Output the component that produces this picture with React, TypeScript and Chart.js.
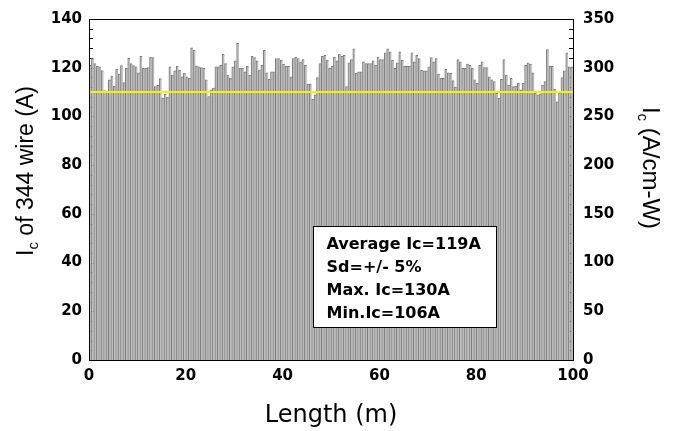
import React, { useEffect, useRef } from "react";
import { Chart, registerables } from "chart.js";

Chart.register(...registerables);

// ---- data -------------------------------------------------------------
const LENGTH_STEP_M = 0.5;

// critical current of each 0.5 m section (A)
const icValues: number[] = [
  // 0 - 18.5 m
  121.0, 123.8, 121.7, 120.6, 120.4, 118.8, 110.6, 109.8, 115.0, 116.6,
  112.5, 119.3, 117.4, 120.9, 113.9, 119.7, 123.9, 121.7, 120.9, 120.4,
  117.9, 124.7, 119.7, 119.8, 120.1, 124.4, 124.2, 112.3, 112.8, 115.5,
  107.5, 109.1, 107.9, 120.4, 117.0, 118.7, 120.6,
  // 18.5 - 33.5 m
  119.0, 116.3, 117.7, 116.3, 115.6, 128.2, 127.1, 120.8, 120.4, 120.1,
  119.7, 115.0, 108.2, 110.9, 111.6, 120.4, 120.4, 121.0, 125.5, 121.7,
  117.0, 115.6, 120.4, 122.8, 130.0, 119.7, 119.7, 118.3, 120.6, 117.0,
  // 33.5 - 53 m
  124.7, 124.2, 122.8, 119.0, 121.0, 127.1, 117.9, 115.2, 118.3, 118.3,
  123.8, 123.8, 123.1, 121.5, 120.6, 120.6, 116.3, 123.8, 124.4, 123.8,
  122.4, 123.3, 121.0, 113.3, 113.3, 107.1, 108.9, 116.0, 121.7, 124.7,
  125.1, 123.1, 119.7, 120.6, 124.4, 122.8, 125.5, 124.7, 125.1,
  // 53 - 70 m
  112.3, 122.0, 123.3, 127.8, 117.7, 118.3, 118.3, 122.4, 121.7, 121.7,
  121.7, 122.8, 121.0, 124.4, 123.3, 123.3, 126.1, 127.8, 126.5, 123.1,
  119.7, 122.0, 126.5, 123.1, 120.6, 120.6, 120.6, 126.1, 122.4, 125.1,
  123.8, 119.0, 118.7, 118.7,
  // 70 - 87 m
  120.4, 124.2, 122.4, 123.8, 117.4, 115.6, 115.6, 119.3, 117.9, 117.7,
  114.7, 112.0, 123.3, 122.4, 119.7, 119.7, 121.5, 121.0, 119.7, 115.0,
  113.6, 121.0, 122.4, 120.1, 120.1, 116.3, 115.0, 114.3, 109.5, 107.5,
  115.2, 123.3, 117.0, 112.9,
  // 87 - 100 m
  115.6, 112.3, 112.5, 113.6, 110.9, 113.6, 121.0, 122.0, 121.5, 117.9,
  109.5, 108.9, 109.3, 112.9, 114.3, 127.4, 120.6, 120.6, 111.2, 106.0,
  109.8, 116.0, 118.7, 126.1, 120.4, 120.4,
];

const lengthPositions: number[] = icValues.map((_, i) => (i + 0.5) * LENGTH_STEP_M);

const referenceLevel = 110; // yellow line (A)

const xRange = { min: 0, max: 100, step: 20 };
const leftRange = { min: 0, max: 140, step: 20, minor: 4 };
const rightRange = { min: 0, max: 350, step: 50, minor: 10 };

const statsLines: string[] = [
  "Average Ic=119A",
  "Sd=+/- 5%",
  "Max. Ic=130A",
  "Min.Ic=106A",
];

const leftTitleParts = [
  { t: "I", sub: false },
  { t: "c", sub: true },
  { t: " of 344 wire (A)", sub: false },
];
const rightTitleParts = [
  { t: "I", sub: false },
  { t: "c", sub: true },
  { t: " (A/cm-W)", sub: false },
];
const xTitle = "Length (m)";

// ---- styling -----------------------------------------------------------
const W = 676;
const H = 431;
const PLOT = { left: 89, right: 573, top: 15, bottom: 360 };
const TICK_FONT = { family: "'DejaVu Sans', sans-serif", size: 15, weight: "bold" as const };
const TITLE_FAMILY = "'Liberation Sans', Arial, sans-serif";
const BOX = { fromX: 46.3, toX: 84.1, topY: 55.2, bottomY: 13.4 };

function drawParts(
  ctx: CanvasRenderingContext2D,
  parts: { t: string; sub: boolean }[],
  cx: number,
  cy: number,
  angle: number,
  size: number,
  subSize: number
) {
  ctx.save();
  ctx.translate(cx, cy);
  ctx.rotate(angle);
  ctx.textAlign = "left";
  ctx.textBaseline = "alphabetic";
  ctx.fillStyle = "#000";
  const widths = parts.map((p) => {
    ctx.font = `${p.sub ? subSize : size}px ${TITLE_FAMILY}`;
    return ctx.measureText(p.t).width;
  });
  const total = widths.reduce((a, b) => a + b, 0);
  let x = -total / 2;
  parts.forEach((p, i) => {
    ctx.font = `${p.sub ? subSize : size}px ${TITLE_FAMILY}`;
    ctx.fillText(p.t, x, p.sub ? 5 : 0);
    x += widths[i];
  });
  ctx.restore();
}

const decorPlugin = {
  id: "decor",
  beforeDatasetsDraw(chart: any) {
    const { ctx, chartArea: ca, scales } = chart;
    const y = scales.y;
    const y2 = scales.y2;
    ctx.save();
    ctx.strokeStyle = "#000";
    ctx.lineWidth = 1;
    ctx.beginPath();
    for (let v = leftRange.min; v <= leftRange.max; v += leftRange.minor) {
      const p = Math.round(y.getPixelForValue(v)) + 0.5;
      const len = v % leftRange.step === 0 ? 6 : 4;
      ctx.moveTo(ca.left, p);
      ctx.lineTo(ca.left + len, p);
    }
    for (let v = rightRange.min; v <= rightRange.max; v += rightRange.minor) {
      const p = Math.round(y2.getPixelForValue(v)) + 0.5;
      const len = v % rightRange.step === 0 ? 6 : 4;
      ctx.moveTo(ca.right, p);
      ctx.lineTo(ca.right - len, p);
    }
    ctx.stroke();
    ctx.restore();
  },
  afterDraw(chart: any) {
    const { ctx, chartArea: ca, scales } = chart;
    ctx.save();
    // frame
    ctx.strokeStyle = "#000";
    ctx.lineWidth = 1;
    ctx.strokeRect(
      Math.round(ca.left) + 0.5,
      Math.round(ca.top) + 0.5,
      Math.round(ca.right - ca.left),
      Math.round(ca.bottom - ca.top)
    );

    // statistics box
    const bx0 = Math.round(scales.x.getPixelForValue(BOX.fromX)) + 0.5;
    const bx1 = Math.round(scales.x.getPixelForValue(BOX.toX)) + 0.5;
    const by0 = Math.round(scales.y.getPixelForValue(BOX.topY)) + 0.5;
    const by1 = Math.round(scales.y.getPixelForValue(BOX.bottomY)) + 0.5;
    ctx.fillStyle = "#fff";
    ctx.fillRect(bx0, by0, bx1 - bx0, by1 - by0);
    ctx.strokeStyle = "#000";
    ctx.lineWidth = 1;
    ctx.strokeRect(bx0, by0, bx1 - bx0, by1 - by0);
    ctx.fillStyle = "#000";
    ctx.font = "bold 16px 'DejaVu Sans', sans-serif";
    ctx.textAlign = "left";
    ctx.textBaseline = "middle";
    const lineGap = 23.2;
    statsLines.forEach((s, i) => {
      ctx.fillText(s, bx0 + 13, by0 + 18 + i * lineGap);
    });

    // axis titles
    ctx.font = "24px 'DejaVu Sans', sans-serif";
    ctx.textAlign = "center";
    ctx.textBaseline = "alphabetic";
    ctx.fillText(xTitle, (ca.left + ca.right) / 2, 422);
    drawParts(ctx, leftTitleParts, 33, 171, -Math.PI / 2, 23, 15);
    drawParts(ctx, rightTitleParts, 643, 168, Math.PI / 2, 24, 15);
    ctx.restore();
  },
};

export default function App() {
  const canvasRef = useRef<HTMLCanvasElement | null>(null);

  useEffect(() => {
    document.body.style.margin = "0";
    const canvas = canvasRef.current;
    if (!canvas) return;
    const chart = new Chart(canvas, {
      type: "bar",
      data: {
        datasets: [
          {
            type: "line",
            data: [
              { x: xRange.min, y: referenceLevel },
              { x: xRange.max, y: referenceLevel },
            ],
            borderColor: "#f5f500",
            borderWidth: 2,
            pointRadius: 0,
            yAxisID: "y",
            order: 0,
          } as any,
          {
            type: "bar",
            data: lengthPositions.map((x, i) => ({ x, y: icValues[i] })),
            backgroundColor: "#bdbdbd",
            borderColor: "#7b7b7b",
            borderWidth: { top: 1, left: 1, right: 0, bottom: 0 },
            borderSkipped: false,
            barPercentage: 1,
            categoryPercentage: 1,
            yAxisID: "y",
            order: 1,
          } as any,
        ],
      },
      options: {
        animation: false,
        responsive: false,
        maintainAspectRatio: false,
        layout: { padding: { top: PLOT.top, left: 0, right: 0, bottom: 0 } },
        plugins: {
          legend: { display: false },
          tooltip: { enabled: false },
        },
        scales: {
          x: {
            type: "linear",
            position: "bottom",
            min: xRange.min,
            max: xRange.max,
            offset: false,
            grid: { display: false, drawTicks: false, offset: false },
            border: { display: false },
            ticks: {
              stepSize: xRange.step,
              color: "#000",
              font: TICK_FONT,
              padding: 7,
              maxRotation: 0,
            },
            afterFit: (s: any) => {
              s.height = H - PLOT.bottom;
            },
          },
          y: {
            type: "linear",
            position: "left",
            min: leftRange.min,
            max: leftRange.max,
            grid: { display: false, drawTicks: false },
            border: { display: false },
            ticks: { stepSize: leftRange.step, color: "#000", font: TICK_FONT, padding: 7 },
            afterFit: (s: any) => {
              s.width = PLOT.left;
            },
          },
          y2: {
            type: "linear",
            position: "right",
            min: rightRange.min,
            max: rightRange.max,
            grid: { display: false, drawTicks: false },
            border: { display: false },
            ticks: { stepSize: rightRange.step, color: "#000", font: TICK_FONT, padding: 10 },
            afterFit: (s: any) => {
              s.width = W - PLOT.right;
            },
          },
        },
      } as any,
      plugins: [decorPlugin],
    });
    return () => chart.destroy();
  }, []);

  return (
    <div style={{ position: "absolute", left: 0, top: 0, width: W, height: H, background: "#fff" }}>
      <canvas ref={canvasRef} width={W} height={H} style={{ width: W, height: H, display: "block" }} />
    </div>
  );
}
